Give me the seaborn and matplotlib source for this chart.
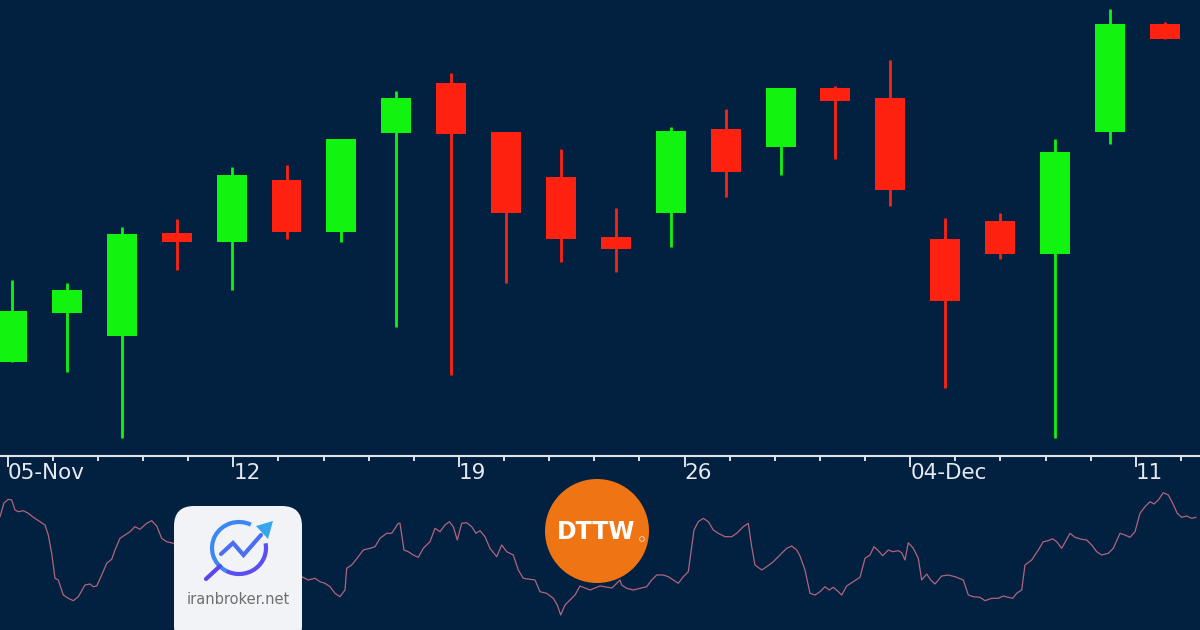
import matplotlib
matplotlib.use("Agg")
import matplotlib.pyplot as plt
from matplotlib.patches import Arc, Circle, FancyBboxPatch, Polygon
import numpy as np
import pandas as pd
import seaborn as sns

BG = "#02203f"
UP = "#10f410"
DOWN = "#ff2210"
AXIS_COL = "#dfe3ea"
OSC_COL = "#b0657f"

# OHLC candles, one per bar
opens = [109.83, 114.67, 112.40, 122.67, 121.83, 128.00, 122.83, 132.67, 137.73, 132.83, 128.27,
         122.33, 124.67, 133.10, 131.33, 137.23, 136.17, 122.10, 123.90, 120.60, 132.83, 143.60]
highs = [118.00, 117.73, 123.33, 124.07, 129.27, 129.50, 132.10, 136.93, 138.67, 132.83, 131.07,
         125.17, 133.33, 135.10, 137.23, 137.40, 140.00, 124.17, 124.67, 132.07, 145.10, 143.83]
lows = [109.83, 108.83, 102.17, 119.00, 117.00, 122.10, 121.83, 113.33, 108.50, 117.73, 119.83,
        118.77, 121.33, 126.27, 128.50, 130.07, 125.43, 107.23, 120.07, 102.23, 131.60, 142.10]
closes = [114.93, 117.00, 122.60, 121.83, 128.50, 122.83, 132.10, 136.17, 132.60, 124.67, 122.10,
          121.07, 132.90, 128.77, 137.23, 135.93, 127.00, 115.93, 120.57, 130.77, 143.60, 142.10]

# date axis: weekly labels, daily minor ticks (in bar units)
week_labels = ["05-Nov", "12", "19", "26", "04-Dec", "11"]
first_week = -0.08
week_len = 4.11

# lower oscillator panel (time in its own units, value 0-150)
osc_t = [0, 4, 8.3, 11.7, 15, 18.3, 23.3, 28.3, 33.3, 40, 45, 48.3, 51.7, 55, 58.3, 63.3, 68.3, 73.3,
         78.3, 85, 90, 93.3, 96.7, 101.7, 106.7, 111.7, 115, 120, 125, 130, 135, 140, 146.7, 151.7,
         156.7, 161.7, 166.7, 173.3, 185, 200, 220, 240, 260, 280, 295, 301.7, 308.3, 315, 320, 325,
         330, 335, 340, 345, 346.7, 351.7, 358.3, 363.3, 370, 375, 380, 386.7, 391.7, 395, 398.3, 400,
         404, 408.3, 413.3, 418.3, 423.3, 430, 435, 440, 445, 449.3, 453.3, 457.3, 461.7, 466.7, 471.7,
         476, 480, 485, 490, 496.7, 501.7, 506.7, 513.3, 518.3, 523.3, 530, 535, 540, 546.7, 553.3,
         557.3, 560.7, 565, 570, 575, 580, 590, 600, 612, 620, 621.7, 626.7, 633.3, 640, 646.7, 651.7,
         656.7, 663.3, 668.3, 673.3, 678.3, 683.3, 688.3, 691.7, 694, 698.3, 703.3, 708.3, 713.3,
         718.3, 725, 731.7, 736.7, 743.3, 748.3, 751.7, 755, 761.7, 766.7, 773.3, 780, 786.7, 791.7,
         796.7, 800, 805, 810, 815, 820, 825, 829.3, 833.3, 837.3, 841.7, 846.7, 853.3, 860, 865, 870,
         874, 878.3, 882.7, 888.3, 892.7, 898.3, 901.7, 905, 908.3, 913.3, 918.3, 921.7, 926.7, 930.7,
         935, 941.7, 948.3, 955, 963.3, 968.3, 973.3, 980, 985, 991.7, 998.3, 1003.3, 1008.3, 1012.7,
         1016.7, 1021.7, 1025, 1031.7, 1038.3, 1043.3, 1048.3, 1052.7, 1056.7, 1061.7, 1070, 1075,
         1081.7, 1086.7, 1091.7, 1096.7, 1101.7, 1108.3, 1113.3, 1120, 1125, 1130, 1135, 1140, 1145,
         1150, 1154, 1158.3, 1163.3, 1168.3, 1172.7, 1177.3, 1181.7, 1186.7, 1191.7, 1196]
osc_val = [113.3, 127, 130.7, 130, 120, 118.3, 119.3, 116.7, 112.7, 108.3, 105, 95, 76.7, 51.7, 50, 35,
           31.7, 29.3, 33.3, 45, 46, 43.3, 44, 55, 66.7, 70.7, 80, 91.7, 95, 98.3, 103.3, 100.7, 106.7,
           109.3, 104, 91.7, 88.3, 86.7, 80, 72, 62, 58, 60, 57, 52, 53.3, 50, 51.7, 48.3, 46.7, 43.3,
           36.7, 33.3, 40, 61.7, 65, 73.3, 80, 81.7, 83.3, 91.7, 96.7, 96.7, 101.7, 106.7, 106.7, 80,
           78.3, 75, 72.7, 81.7, 88.3, 101.7, 98.3, 105, 108.3, 103.3, 90, 106.7, 107.3, 103.3, 96.7,
           99.3, 93.3, 81.7, 73.3, 85, 78.3, 75, 60, 51.7, 50.7, 50, 38.3, 36.7, 31.7, 25, 15, 25, 30,
           35, 44, 40, 44, 42, 50, 45, 41.7, 40, 41.7, 43.3, 50, 55, 55, 53.3, 50, 46.7, 53.3, 58.3,
           83.3, 100, 108.3, 111.7, 108.3, 100, 96.7, 93.3, 93.3, 96.7, 103.3, 106.7, 83.3, 65, 60,
           63.3, 68.3, 75, 81.7, 84, 80, 74, 60, 36.7, 35, 38.3, 43.3, 40, 42.7, 39.3, 35, 44, 48.3,
           52.7, 71.7, 75, 83.3, 79.3, 74.3, 80, 78.3, 79.3, 77.3, 70, 87.3, 81.7, 71.7, 50, 56, 50,
           46, 54, 55, 53.3, 50, 35, 33.3, 32.7, 29.3, 31.7, 31.7, 34, 32.7, 31.7, 36.7, 40, 65, 70,
           80, 88.3, 89.3, 91.3, 88.3, 81.7, 96.7, 92.7, 90.7, 90, 85, 78.3, 75, 76.7, 81.7, 96.7, 95,
           92.7, 98.3, 116.7, 123.3, 128.3, 126, 130, 137.3, 135, 126.7, 116.7, 112.7, 114, 111.7, 112.7]


def draw_logos(ov):
    # iranbroker.net badge
    ov.add_patch(FancyBboxPatch((174, 506), 128, 140, boxstyle="round,pad=0,rounding_size=20",
                                facecolor="#f2f3f6", edgecolor="none", zorder=5))
    ov.add_patch(Arc((239, 548), 54, 52, theta1=-10, theta2=120, color="#5a4ff0", lw=3, zorder=6))
    ov.add_patch(Arc((239, 548), 54, 52, theta1=120, theta2=297, color="#3a88f4", lw=3, zorder=6))
    ov.plot([206, 220], [579, 566], color="#5a45ee", lw=3, solid_capstyle="round", zorder=6)
    ov.plot([221, 233, 243.5, 261], [554, 543, 555, 535], color="#4c6ef2", lw=3,
            solid_joinstyle="miter", zorder=6)
    ov.add_patch(Polygon([[273, 521], [256, 526], [268, 539]], closed=True,
                         facecolor="#37a6ee", edgecolor="none", zorder=6))
    ov.text(238.5, 600, "iranbroker.net", ha="center", va="center", fontsize=10.5,
            color="#6f6f6f", zorder=7)

    # DTTW roundel
    ov.add_patch(Circle((597, 531), 52, facecolor="#ef7514", edgecolor="none", zorder=5))
    ov.text(596, 532, "DTTW", ha="center", va="center", fontsize=17, fontweight="bold",
            color="white", zorder=6)
    ov.add_patch(Circle((642, 539), 2.4, facecolor="none", edgecolor="#f8d8bf", lw=0.6, zorder=6))


def main() -> None:
    sns.set_theme(style="dark")
    plt.rcParams["font.family"] = ["DejaVu Sans"]

    df = pd.DataFrame({"open": opens, "high": highs, "low": lows, "close": closes})
    df["colour"] = np.where(df["close"] >= df["open"], UP, DOWN)

    fig = plt.figure(figsize=(12, 6.3), dpi=100, facecolor=BG)

    ax = fig.add_axes([0, 174 / 630, 1, 456 / 630])
    ax.set_facecolor(BG)
    ax.vlines(df.index, df["low"], df["high"], colors=df["colour"], linewidth=2.0, zorder=2)
    ax.bar(df.index, (df["close"] - df["open"]).abs(), bottom=df[["open", "close"]].min(axis=1),
           width=0.546, color=df["colour"], linewidth=0, zorder=3)
    ax.set_xlim(-0.219, 21.64)
    ax.set_ylim(100.4, 146.0)

    for side in ["top", "left", "right"]:
        ax.spines[side].set_visible(False)
    ax.spines["bottom"].set_color(AXIS_COL)
    ax.spines["bottom"].set_linewidth(1.5)
    ax.grid(False)
    ax.set_yticks([])

    majors = first_week + week_len * np.arange(len(week_labels))
    minors = first_week + week_len / 5 * np.arange(27)
    ax.set_xticks(majors)
    ax.set_xticklabels(week_labels, ha="left")
    ax.set_xticks(minors, minor=True)
    ax.tick_params(axis="x", which="major", direction="out", length=8, width=1.4, color=AXIS_COL,
                   labelcolor="#e6e9ef", labelsize=15.5, pad=-3, bottom=True)
    ax.tick_params(axis="x", which="minor", direction="out", length=3.8, width=1.4, color=AXIS_COL,
                   bottom=True)

    ax2 = fig.add_axes([0, 0, 1, 150 / 630])
    ax2.set_facecolor("none")
    sns.lineplot(x=osc_t, y=osc_val, ax=ax2, color=OSC_COL, linewidth=0.9, sort=False,
                 estimator=None)
    ax2.set_xlim(0, 1200)
    ax2.set_ylim(0, 150)
    ax2.axis("off")

    ov = fig.add_axes([0, 0, 1, 1])
    ov.set_xlim(0, 1200)
    ov.set_ylim(630, 0)
    ov.axis("off")
    draw_logos(ov)

    fig.savefig("out.png", dpi=100, facecolor=BG)
    plt.close(fig)


if __name__ == "__main__":
    main()
